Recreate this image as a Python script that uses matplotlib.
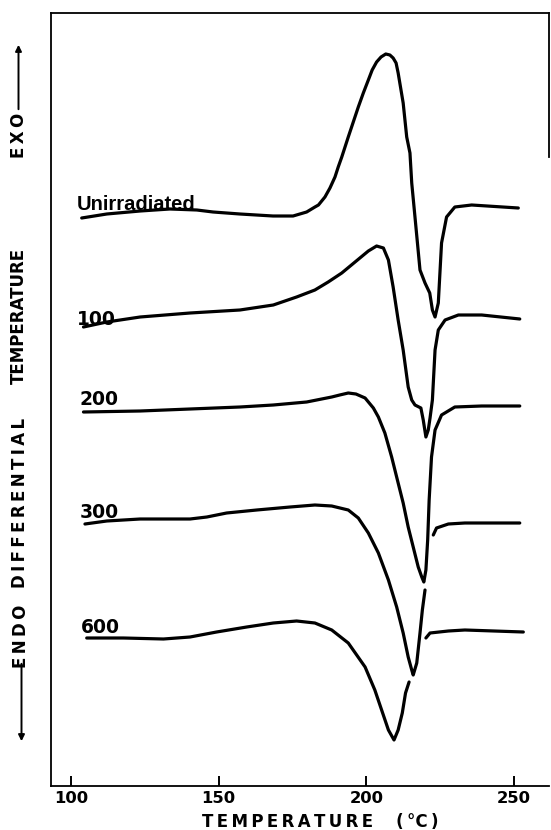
import matplotlib
matplotlib.use("Agg")
import matplotlib.pyplot as plt
import numpy as np
from matplotlib.patches import FancyArrowPatch

# ---- data (temperature in degC, DTA signal in arbitrary units) ----
t_unirr = [103.6, 112.1, 123.4, 133.5, 142.6, 148.1, 157.2, 168.4, 175.2, 179.8,
           182.6, 183.8, 186.0, 187.7, 189.4, 190.5, 191.7, 193.9, 195.6, 197.3,
           199.0, 200.7, 202.0, 203.5, 205.0, 206.6, 208.0, 209.1, 210.1, 210.8,
           212.5, 213.7, 214.8, 215.4, 216.5, 218.2, 219.9, 221.5, 222.4, 223.3,
           224.4, 225.5, 227.2, 230.0, 235.7, 251.5]
s_unirr = [56.8, 57.2, 57.5, 57.7, 57.6, 57.4, 57.2, 57.0, 57.0, 57.4,
           57.9, 58.1, 58.9, 59.8, 60.9, 61.9, 62.9, 64.9, 66.4, 67.9,
           69.3, 70.6, 71.6, 72.4, 72.9, 73.2, 73.1, 72.8, 72.3, 71.3,
           68.3, 64.9, 63.3, 60.3, 56.9, 51.6, 50.3, 49.3, 47.6, 46.9,
           48.3, 54.3, 56.9, 57.9, 58.1, 57.8]

t_100 = [104.2, 112.1, 123.4, 140.3, 157.2, 168.5, 176.4, 182.6, 187.1, 191.7,
         196.2, 200.7, 203.5, 205.8, 207.5, 209.1, 210.8, 212.5, 214.2, 215.4,
         216.5, 218.5, 219.3, 220.2, 221.0, 221.6, 222.4, 223.3, 224.4, 226.7,
         231.2, 239.1, 252.0]
s_100 = [45.9, 46.4, 46.9, 47.3, 47.6, 48.1, 48.9, 49.6, 50.4, 51.3,
         52.4, 53.5, 54.0, 53.8, 52.6, 49.9, 46.6, 43.6, 39.9, 38.6,
         38.1, 37.8, 36.6, 34.9, 35.6, 36.8, 38.6, 43.6, 45.6, 46.6,
         47.1, 47.1, 46.7]

t_200 = [104.2, 123.4, 140.3, 157.2, 168.5, 179.8, 188.3, 191.0, 193.9, 196.5,
         199.6, 202.4, 204.1, 206.3, 208.6, 210.8, 212.5, 214.2, 215.9, 217.6,
         218.8, 219.5, 220.2, 220.8, 221.3, 222.1, 223.3, 225.5, 230.0, 239.1,
         252.0]
s_200 = [37.4, 37.5, 37.7, 37.9, 38.1, 38.4, 38.9, 39.1, 39.3, 39.2,
         38.8, 37.8, 36.9, 35.3, 32.9, 30.3, 28.3, 25.9, 23.9, 21.9,
         20.9, 20.4, 21.6, 24.6, 28.6, 32.9, 35.6, 37.1, 37.9, 38.0,
         38.0]

t_300 = [104.7, 112.1, 123.4, 140.3, 146.0, 152.7, 162.9, 174.2, 182.6, 188.3,
         193.9, 197.3, 200.7, 204.1, 207.5, 210.3, 212.5, 214.2, 215.4, 215.9,
         217.1, 218.2, 219.0, 219.9, np.nan, 222.7, 223.8, 227.8, 233.4, 252.0]
s_300 = [26.2, 26.5, 26.7, 26.7, 26.9, 27.3, 27.6, 27.9, 28.1, 28.0,
         27.6, 26.8, 25.3, 23.3, 20.6, 17.9, 15.3, 12.9, 11.6, 11.1,
         12.3, 15.3, 17.6, 19.6, np.nan, 25.1, 25.8, 26.2, 26.3, 26.3]

t_600 = [105.3, 117.7, 131.3, 140.3, 149.3, 159.5, 168.5, 176.4, 182.6, 188.3,
         193.9, 199.6, 202.9, 205.2, 207.5, 209.4, 210.8, 212.2, 213.3, 214.5,
         np.nan, 220.2, 221.6, 227.8, 233.4, 253.2]
s_600 = [14.8, 14.8, 14.7, 14.9, 15.4, 15.9, 16.3, 16.5, 16.3, 15.6,
         14.3, 11.9, 9.6, 7.6, 5.6, 4.6, 5.6, 7.3, 9.3, 10.4,
         np.nan, 14.8, 15.3, 15.5, 15.6, 15.4]

curve_labels = ["Unirradiated", "100", "200", "300", "600"]
label_t = [101.9, 101.9, 103.0, 103.0, 103.3]
label_s = [57.6, 46.1, 38.1, 26.8, 15.3]

x_ticks = [100, 150, 200, 250]
x_lim = (93.2, 261.9)
y_lim = (0.0, 77.3)

# ---- figure ----
W, H = 551, 830
fig = plt.figure(figsize=(W / 100, H / 100), dpi=100)
ax = fig.add_axes([51 / W, 1 - 786 / H, (549 - 51) / W, (786 - 13) / H])

series = [(t_unirr, s_unirr), (t_100, s_100), (t_200, s_200),
          (t_300, s_300), (t_600, s_600)]
for t, s in series:
    ax.plot(t, s, color="black", lw=2.3, solid_joinstyle="round",
            solid_capstyle="round")

bold = dict(family=["DejaVu Sans"], weight="bold", color="black")
for lab, lt, ls in zip(curve_labels, label_t, label_s):
    if lab == "Unirradiated":
        ax.text(lt, ls, lab, fontsize=14.5, ha="left", va="baseline",
                family=["Liberation Sans", "DejaVu Sans"], weight="bold")
    else:
        ax.text(lt, ls, lab, fontsize=13.5, ha="left", va="baseline", **bold)

ax.set_xlim(*x_lim)
ax.set_ylim(*y_lim)
ax.set_xticks(x_ticks)
ax.set_xticklabels([str(v) for v in x_ticks], **bold, fontsize=11.8)
ax.set_yticks([])
ax.tick_params(axis="x", direction="in", length=7, width=1.4, pad=3.5)
for side in ["left", "bottom", "top", "right"]:
    ax.spines[side].set_linewidth(1.3)
ax.spines["right"].set_bounds(62.9, 77.3)

# x-axis title (letter spaced)
ts = "\u2009"
xlabel = ts.join("TEMPERATURE") + "    (" + ts + "°C" + ts + ")"
fig.text(320 / W, 1 - 822 / H, xlabel, ha="center", va="center",
         fontsize=12, **bold)

# y-axis side texts
def ytxt(ypix, s, xpix=19):
    fig.text(xpix / W, 1 - ypix / H, s, rotation=90, ha="center",
             va="center", fontsize=12, **bold)

ytxt(135, ts.join("EXO"), 18.5)
ytxt(316, "TEMPERATURE", 19)
ytxt(503, ts.join("DIFFERENTIAL"), 20)
ytxt(636, ts.join("ENDO"), 21)

def farrow(x, y0, y1):
    a = FancyArrowPatch((x / W, 1 - y0 / H), (x / W, 1 - y1 / H),
                        transform=fig.transFigure, arrowstyle="-|>",
                        mutation_scale=9, lw=1.4, color="black")
    fig.add_artist(a)

farrow(18.5, 112, 42)
farrow(21.5, 661, 744)

fig.savefig("out.png", dpi=100)
